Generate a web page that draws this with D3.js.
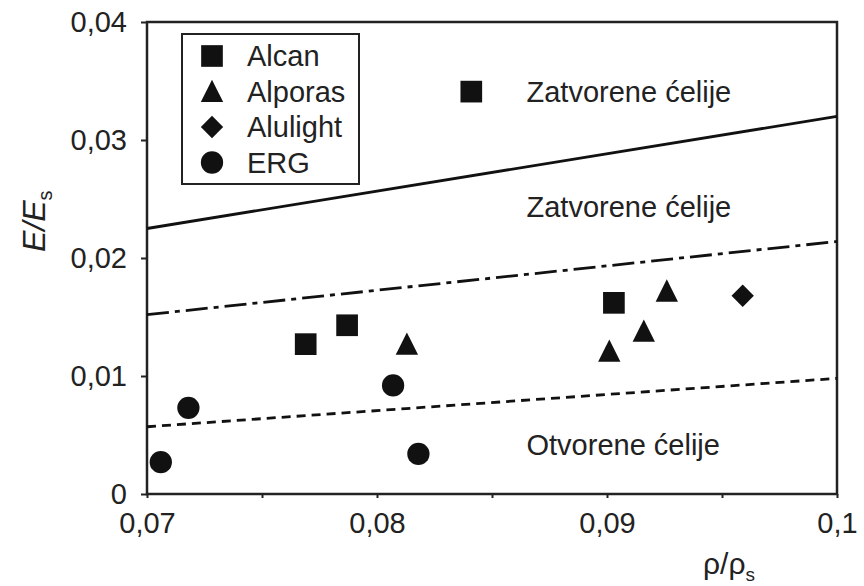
<!DOCTYPE html>
<html>
<head>
<meta charset="utf-8">
<script src="https://cdn.jsdelivr.net/npm/d3@7"></script>
<style>
  html, body { margin: 0; padding: 0; background: #fff; }
  svg { display: block; }
  text { font-family: "Liberation Sans", Arial, sans-serif; fill: #222; }
</style>
</head>
<body>
<svg id="chart" width="864" height="586"></svg>
<script>
// ---- data ----
const xTickValues = [0.07, 0.08, 0.09, 0.1];
const xTickLabels = ["0,07", "0,08", "0,09", "0,1"];
const xMinorTicks = [0.075, 0.085, 0.095];
const yTickValues = [0, 0.01, 0.02, 0.03, 0.04];
const yTickLabels = ["0", "0,01", "0,02", "0,03", "0,04"];

const seriesNames = ["Alcan", "Alporas", "Alulight", "ERG"];
const alcanX = [0.0769, 0.0787, 0.0903, 0.0841];
const alcanY = [0.0127, 0.0143, 0.0162, 0.0341];
const alporasX = [0.0813, 0.0926, 0.0916, 0.0901];
const alporasY = [0.0127, 0.0172, 0.0138, 0.0121];
const alulightX = [0.0959];
const alulightY = [0.0168];
const ergX = [0.0706, 0.0718, 0.0807, 0.0818];
const ergY = [0.0027, 0.0073, 0.0092, 0.0034];

const lineX = [0.07, 0.1];
const solidY = [0.0225, 0.0320];
const dashDotY = [0.0152, 0.0214];
const dashedY = [0.0057, 0.0098];

const regionLabels = ["Zatvorene ćelije", "Zatvorene ćelije", "Otvorene ćelije"];
const regionLabelX = [0.0865, 0.0865, 0.0865];
const regionLabelY = [0.0332, 0.0235, 0.0033];

// ---- layout ----
const svg = d3.select("#chart");
const x = d3.scaleLinear().domain([0.07, 0.1]).range([147, 837]);
const y = d3.scaleLinear().domain([0, 0.04]).range([494, 22]);
const FS = 29;

// frame
svg.append("rect")
  .attr("x", x(0.07)).attr("y", y(0.04))
  .attr("width", x(0.1) - x(0.07)).attr("height", y(0) - y(0.04))
  .attr("fill", "none").attr("stroke", "#222").attr("stroke-width", 2.5);

// x axis
const xAxis = d3.axisBottom(x)
  .tickValues(xTickValues.concat(xMinorTicks))
  .tickSize(4).tickPadding(14)
  .tickFormat(d => { const i = xTickValues.indexOf(d); return i >= 0 ? xTickLabels[i] : ""; });
const gx = svg.append("g").attr("transform", `translate(0,${y(0)})`).call(xAxis);
gx.select(".domain").remove();
gx.selectAll(".tick line").attr("stroke", "#222").attr("stroke-width", 2);
gx.selectAll(".tick text").attr("font-size", FS).attr("fill", "#222")
  .attr("font-family", "Liberation Sans, Arial, sans-serif");

// y axis
const yAxis = d3.axisLeft(y)
  .tickValues(yTickValues).tickSize(6).tickPadding(14)
  .tickFormat((d, i) => yTickLabels[i]);
const gy = svg.append("g").attr("transform", `translate(${x(0.07)},0)`).call(yAxis);
gy.select(".domain").remove();
gy.selectAll(".tick line").attr("stroke", "#222").attr("stroke-width", 2);
gy.selectAll(".tick text").attr("font-size", FS).attr("fill", "#222")
  .attr("font-family", "Liberation Sans, Arial, sans-serif");

// lines
const lineGen = d3.line().x(d => x(d[0])).y(d => y(d[1]));
function drawLine(ys, dash) {
  svg.append("path")
    .datum(lineX.map((v, i) => [v, ys[i]]))
    .attr("d", lineGen)
    .attr("fill", "none").attr("stroke", "#111").attr("stroke-width", 2.8)
    .attr("stroke-dasharray", dash);
}
drawLine(solidY, null);
drawLine(dashDotY, "22,6,5,6");
drawLine(dashedY, "9,6");

// region labels
regionLabels.forEach((t, i) => {
  svg.append("text").attr("x", x(regionLabelX[i])).attr("y", y(regionLabelY[i]))
    .attr("font-size", FS).text(t);
});

// symbols
const diamondSym = {
  draw(ctx, size) {
    const r = Math.sqrt(size) / 2;
    ctx.moveTo(0, -r); ctx.lineTo(r, 0); ctx.lineTo(0, r); ctx.lineTo(-r, 0); ctx.closePath();
  }
};
const triSym = {
  draw(ctx, size) {
    const w = Math.sqrt(size) / 2;
    ctx.moveTo(0, -w * 1.05); ctx.lineTo(w * 1.0, w * 0.95); ctx.lineTo(-w * 1.0, w * 0.95); ctx.closePath();
  }
};
const symbols = {
  "Alcan": d3.symbol().type(d3.symbolSquare).size(470),
  "Alporas": d3.symbol().type(triSym).size(500),
  "Alulight": d3.symbol().type(diamondSym).size(500),
  "ERG": d3.symbol().type(d3.symbolCircle).size(390)
};
const seriesData = {
  "Alcan": alcanX.map((v, i) => [v, alcanY[i]]),
  "Alporas": alporasX.map((v, i) => [v, alporasY[i]]),
  "Alulight": alulightX.map((v, i) => [v, alulightY[i]]),
  "ERG": ergX.map((v, i) => [v, ergY[i]])
};
seriesNames.forEach(name => {
  svg.append("g").selectAll("path").data(seriesData[name]).join("path")
    .attr("transform", d => `translate(${x(d[0])},${y(d[1])})`)
    .attr("d", symbols[name]())
    .attr("fill", "#111");
});

// legend
const lg = svg.append("g");
lg.append("rect").attr("x", 182).attr("y", 34).attr("width", 177).attr("height", 150)
  .attr("fill", "#fff").attr("stroke", "#222").attr("stroke-width", 2);
seriesNames.forEach((name, i) => {
  const cy = 56 + i * 35.5;
  lg.append("path").attr("transform", `translate(212,${cy})`).attr("d", symbols[name]()).attr("fill", "#111");
  lg.append("text").attr("x", 247).attr("y", cy + 10).attr("font-size", FS).text(name);
});

// axis titles
const yt = svg.append("text").attr("transform", "translate(45,252) rotate(-90)")
  .attr("font-family", "Liberation Serif, Times New Roman, serif").attr("font-size", 32);
yt.append("tspan").attr("font-style", "italic").text("E/E");
yt.append("tspan").attr("font-size", 20).attr("dy", 7).text("s");

const xt = svg.append("text").attr("x", 703).attr("y", 574).attr("font-size", 30);
xt.append("tspan").text("ρ/ρ");
xt.append("tspan").attr("font-size", 19).attr("dy", 7).text("s");
</script>
</body>
</html>
